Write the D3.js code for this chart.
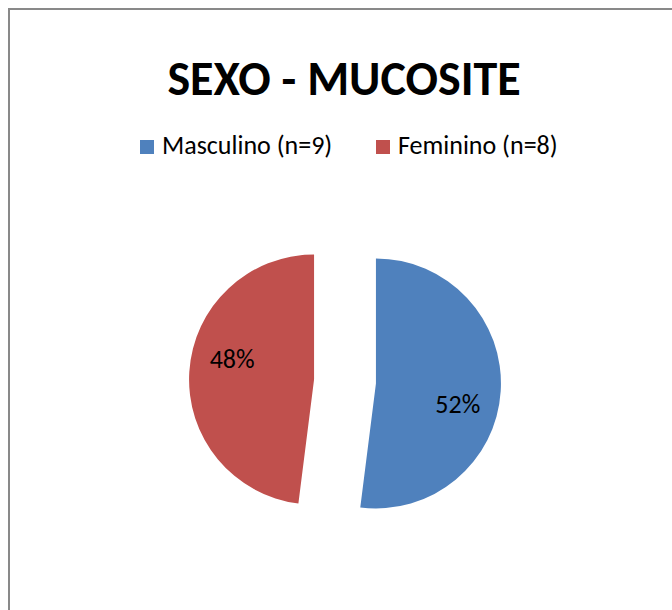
<!DOCTYPE html>
<html>
<head>
<meta charset="utf-8">
<script src="https://cdn.jsdelivr.net/npm/d3@7"></script>
<style>
  html, body { margin: 0; padding: 0; background: #fff; }
  svg { display: block; font-family: Carlito, Calibri, Lato, sans-serif; }
</style>
</head>
<body>
<svg id="chart" width="672" height="610"></svg>
<script>
const title = "SEXO - MUCOSITE";
const categories = ["Masculino (n=9)", "Feminino (n=8)"];
const values = [52, 48];
const colors = ["#4F81BD", "#C0504D"];

const svg = d3.select("#chart");

// chart area border
svg.append("rect")
  .attr("x", 9).attr("y", 9)
  .attr("width", 720).attr("height", 720)
  .attr("fill", "#fff")
  .attr("stroke", "#898989")
  .attr("stroke-width", 2);

// title
svg.append("text")
  .attr("x", 344).attr("y", 95)
  .attr("text-anchor", "middle")
  .attr("font-weight", "bold")
  .attr("font-size", 48)
  .attr("fill", "#000")
  .text(title);

// legend
const legend = svg.append("g");
const legendX = [140, 376];
categories.forEach((c, i) => {
  const g = legend.append("g").attr("transform", `translate(${legendX[i]},140)`);
  g.append("rect").attr("width", 14).attr("height", 14).attr("fill", colors[i]);
  g.append("text").attr("x", 22).attr("y", 14)
    .attr("font-size", 26).attr("fill", "#000").text(c);
});

// pie
const cx = 345, cy = 381.5, r = 125, explode = 31;
const pie = d3.pie().sort(null).value(d => d);
const arcs = pie(values);
const total = d3.sum(values);
const fmt = d3.format(".0%");
const arc = d3.arc().innerRadius(0).outerRadius(r);
const labelShift = 0.18, labelR = 0.675 * r;

const slices = svg.append("g").attr("transform", `translate(${cx},${cy})`);
arcs.forEach((a, i) => {
  const mid = (a.startAngle + a.endAngle) / 2;
  const dx = Math.sin(mid) * explode, dy = -Math.cos(mid) * explode;
  const g = slices.append("g").attr("transform", `translate(${dx},${dy})`);
  g.append("path").attr("d", arc(a)).attr("fill", colors[i]);
  const la = mid + labelShift;
  g.append("text")
    .attr("x", Math.sin(la) * labelR)
    .attr("y", -Math.cos(la) * labelR)
    .attr("dy", "0.35em")
    .attr("text-anchor", "middle")
    .attr("font-size", 26)
    .attr("fill", "#000")
    .text(fmt(a.data / total));
});
</script>
</body>
</html>
